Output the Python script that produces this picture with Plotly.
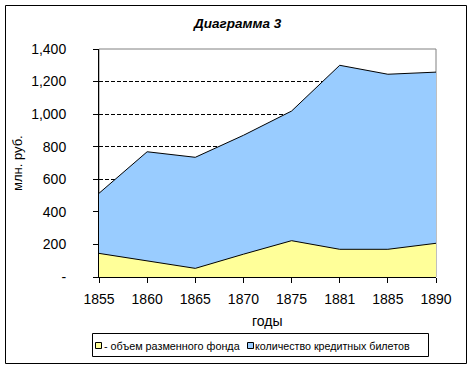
import plotly.graph_objects as go

years = ["1855", "1860", "1865", "1870", "1875", "1881", "1885", "1890"]
credit_notes = [514, 769, 735, 870, 1019, 1300, 1245, 1258]
exchange_fund = [145, 98, 53, 140, 223, 170, 170, 207]
y_ticks = [0, 200, 400, 600, 800, 1000, 1200, 1400]
y_ticktext = ["-", "200", "400", "600", "800", "1,000", "1,200", "1,400"]
legend_names = ["- объем разменного фонда", "количество кредитных билетов"]
fill_colors = ["#FFFF99", "#99CCFF"]

xpos = list(range(len(years)))

fig = go.Figure()
fig.add_trace(go.Scatter(
    x=xpos, y=credit_notes, name=legend_names[1],
    fill="tozeroy", mode="lines", line=dict(color="#000000", width=1),
    fillcolor=fill_colors[1], showlegend=False))
fig.add_trace(go.Scatter(
    x=xpos, y=exchange_fund, name=legend_names[0],
    fill="tozeroy", mode="lines", line=dict(color="#000000", width=1),
    fillcolor=fill_colors[0], showlegend=False))

W, H = 473, 368
L, R, T, B = 99, 37, 49, 91
pw, ph = W - L - R, H - T - B

def px(x):
    return (x - L) / pw

def py(y):
    return (H - B - y) / ph

font_family = "Liberation Sans, Arial, sans-serif"

shapes = [
    dict(type="rect", xref="paper", yref="paper", x0=0, x1=1, y0=0, y1=1,
         line=dict(color="#808080", width=1), layer="below"),
    dict(type="rect", xref="paper", yref="paper",
         x0=px(5.5), x1=px(466.5), y0=py(5.5), y1=py(363.5),
         line=dict(color="black", width=1), layer="below"),
    # legend box
    dict(type="rect", xref="paper", yref="paper",
         x0=px(92.5), x1=px(428.5), y0=py(333.5), y1=py(356.5),
         line=dict(color="black", width=1), fillcolor="white", layer="above"),
    dict(type="rect", xref="paper", yref="paper",
         x0=px(95.5), x1=px(101.5), y0=py(342.5), y1=py(348.5),
         line=dict(color="black", width=1), fillcolor=fill_colors[0], layer="above"),
    dict(type="rect", xref="paper", yref="paper",
         x0=px(247.5), x1=px(253.5), y0=py(342.5), y1=py(348.5),
         line=dict(color="black", width=1), fillcolor=fill_colors[1], layer="above"),
]

annotations = [
    dict(text="<b><i>Диаграмма 3</i></b>", xref="paper", yref="paper",
         x=px(237), y=py(23), xanchor="center", yanchor="middle",
         showarrow=False, font=dict(size=13.5)),
    dict(text="млн. руб.", xref="paper", yref="paper", x=px(17), y=py(163),
         xanchor="center", yanchor="middle", textangle=-90, showarrow=False,
         font=dict(size=13)),
    dict(text="годы", xref="paper", yref="paper", x=px(267), y=py(321),
         xanchor="center", yanchor="middle", showarrow=False,
         font=dict(size=14)),
    dict(text=legend_names[0], xref="paper", yref="paper", x=px(102), y=py(345.5),
         xanchor="left", yanchor="middle", showarrow=False, font=dict(size=10.8)),
    dict(text=legend_names[1], xref="paper", yref="paper", x=px(253), y=py(345.5),
         xanchor="left", yanchor="middle", showarrow=False, font=dict(size=10.7)),
]

fig.update_layout(
    width=W, height=H,
    margin=dict(l=L, r=R, t=T, b=B, autoexpand=False),
    paper_bgcolor="white", plot_bgcolor="white",
    font=dict(family=font_family, size=13, color="black"),
    showlegend=False,
    xaxis=dict(
        range=[0, len(years) - 1], tickvals=xpos, ticktext=years,
        showgrid=False, zeroline=False, showline=True, linecolor="black",
        linewidth=1, ticks="outside", ticklen=5, tickcolor="black",
        tickfont=dict(size=14), ticklabelstandoff=4, automargin=False,
    ),
    yaxis=dict(
        range=[0, 1400], tickvals=y_ticks, ticktext=y_ticktext,
        showgrid=True, gridcolor="black", griddash="4px,2px", gridwidth=1,
        zeroline=False, showline=True, linecolor="black", linewidth=1,
        ticks="outside", ticklen=5, tickcolor="black",
        tickfont=dict(size=14), ticklabelstandoff=24, automargin=False,
    ),
    shapes=shapes,
    annotations=annotations,
)

fig.write_html("out.html", config={"displayModeBar": False},
               post_script="document.body.style.margin='0';")
